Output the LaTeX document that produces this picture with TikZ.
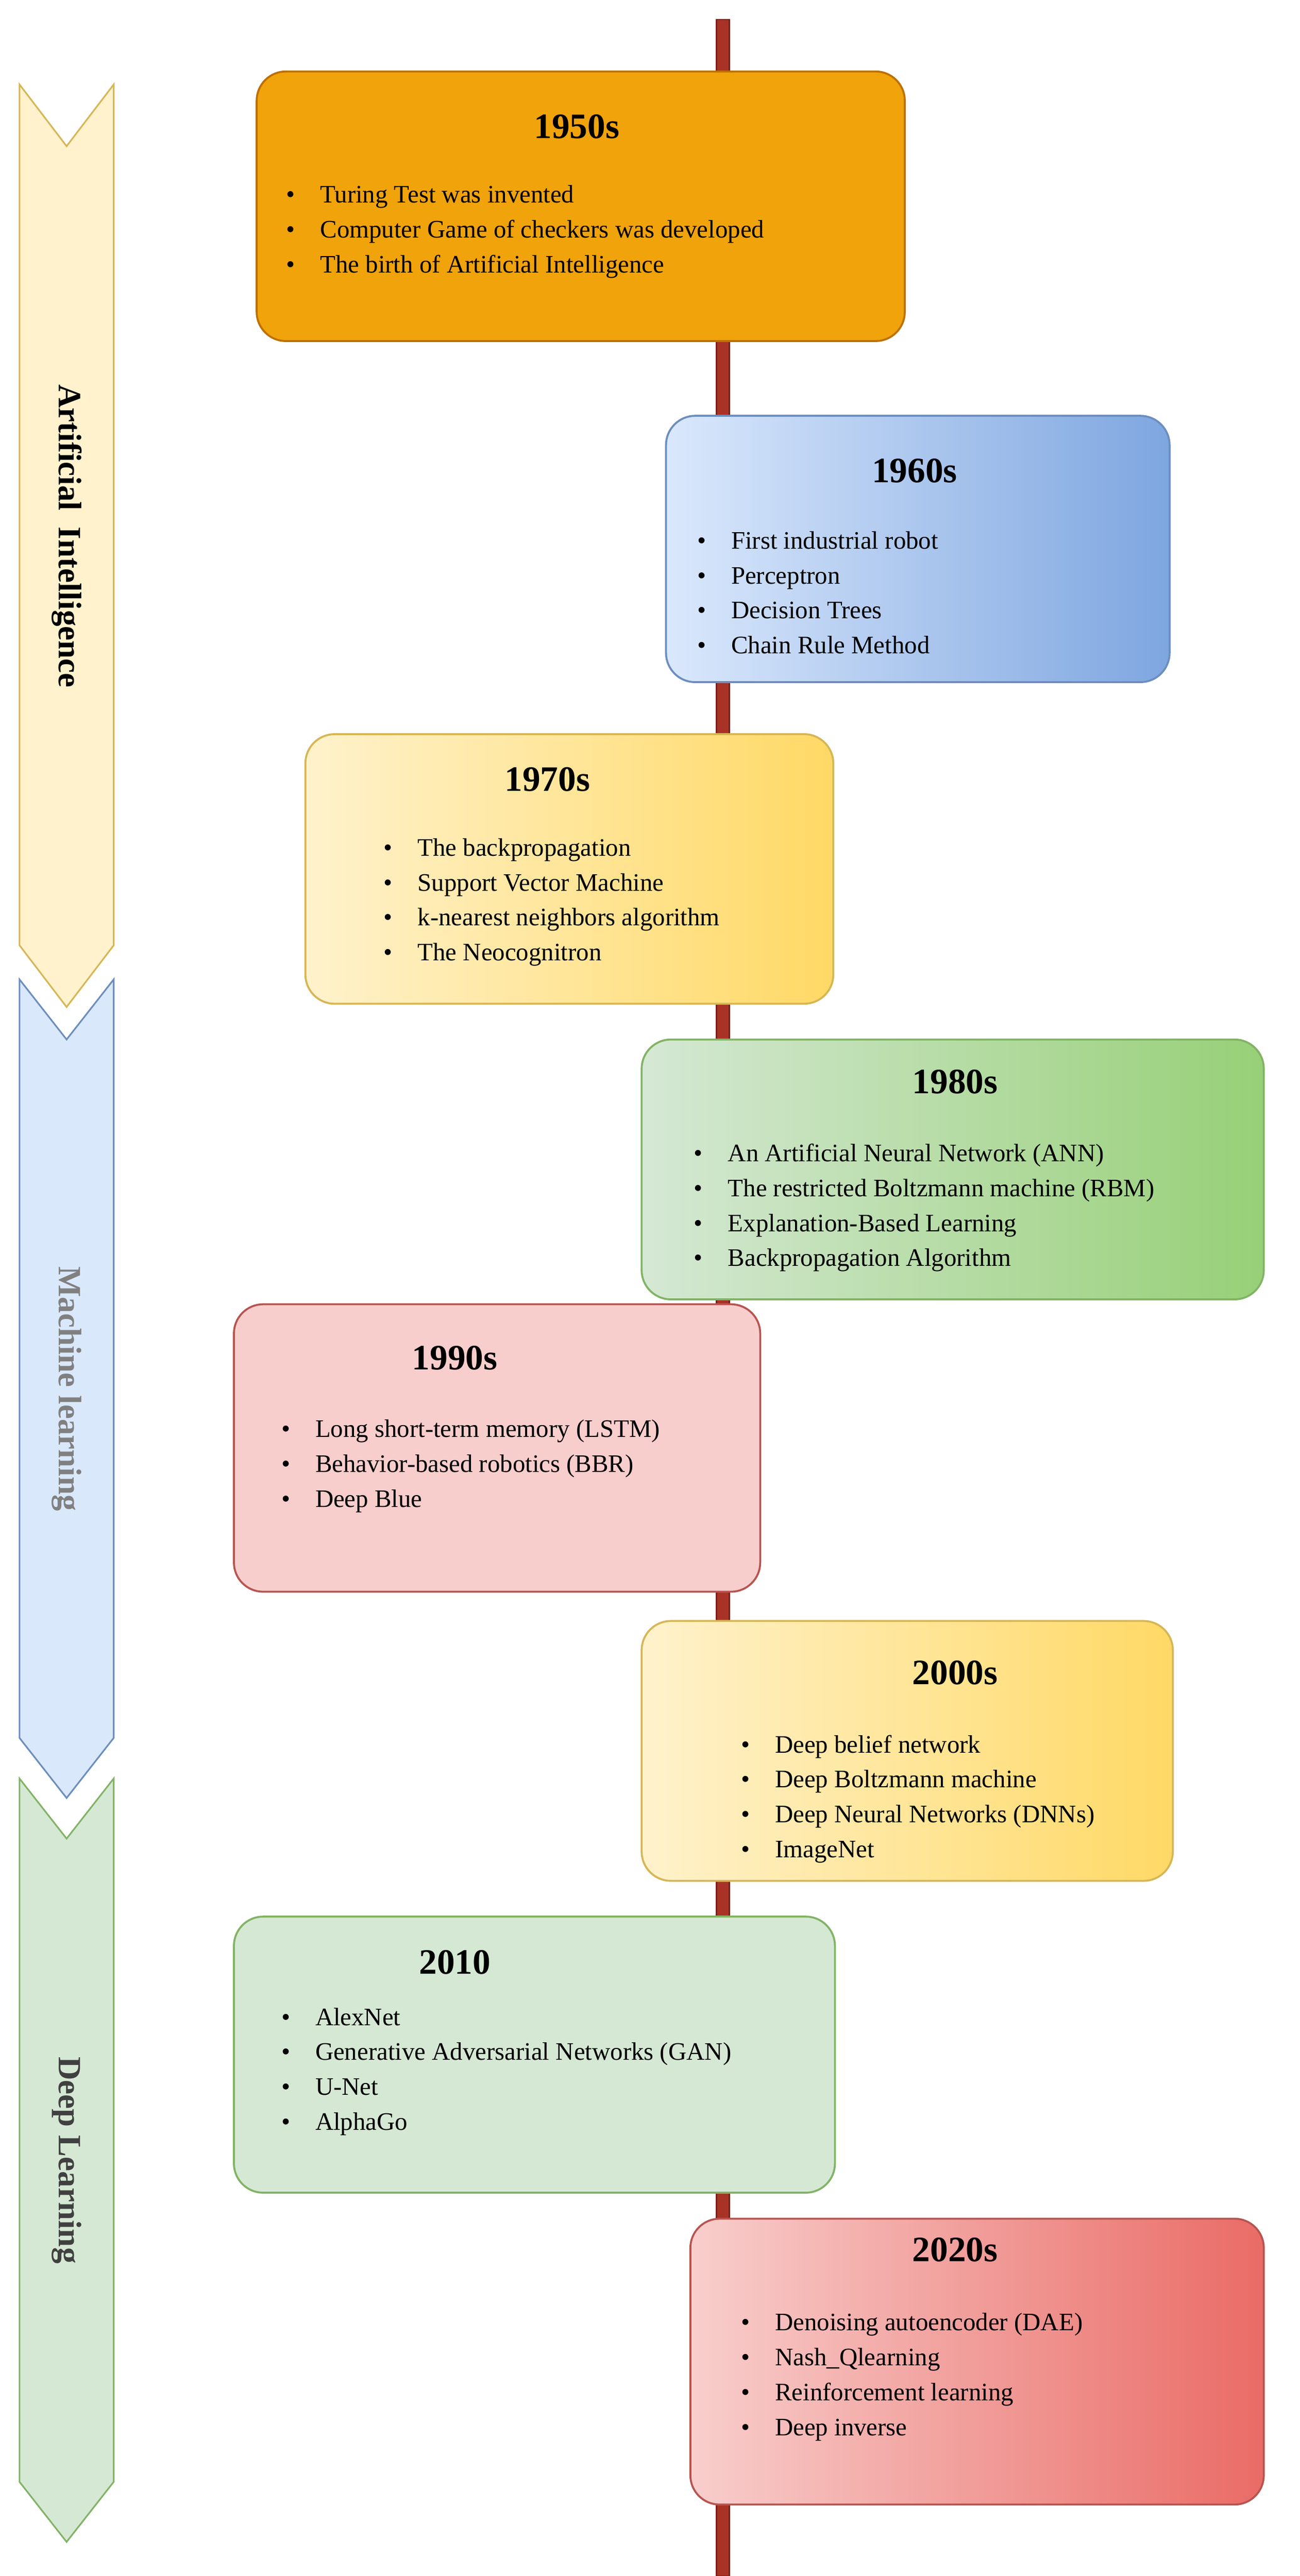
\documentclass[tikz,border=0pt]{standalone}
\usepackage{fontspec}
\setmainfont{Liberation Serif}
\begin{document}
\begin{tikzpicture}[x=1pt,y=-1pt,
 box/.style={draw, line width=1.2pt, rounded corners=18pt},
 ttl/.style={font=\fontsize{22}{24}\selectfont\bfseries},
 itm/.style={font=\fontsize{15.5}{21.5}\selectfont, align=left, anchor=north west, inner sep=0pt},
 chev/.style={draw, line width=1pt},
 ctext/.style={rotate=-90, font=\fontsize{20}{22}\selectfont\bfseries}]
\useasboundingbox (0,0) rectangle (800,1586);
\definecolor{lineR}{HTML}{A93226}
\definecolor{b1f}{HTML}{F0A30A}\definecolor{b1d}{HTML}{BD7000}
\definecolor{bl1}{HTML}{DAE8FC}\definecolor{bl2}{HTML}{7EA6E0}\definecolor{bld}{HTML}{6C8EBF}
\definecolor{y1}{HTML}{FFF2CC}\definecolor{y2}{HTML}{FFD966}\definecolor{yd}{HTML}{D6B656}
\definecolor{g1}{HTML}{D5E8D4}\definecolor{g2}{HTML}{97D077}\definecolor{gd}{HTML}{82B366}
\definecolor{r1}{HTML}{F8CECC}\definecolor{rd}{HTML}{B85450}\definecolor{r2}{HTML}{EA6B66}
\draw[draw=lineR!70!black, fill=lineR, line width=0.8pt] (441,12) rectangle (449,1586);
% chevrons
\draw[chev, fill=y1, draw=yd] (12,52) -- (41,90) -- (70,52) -- (70,582) -- (41,620) -- (12,582) -- cycle;
\draw[chev, fill=bl1, draw=bld] (12,603) -- (41,640) -- (70,603) -- (70,1070) -- (41,1107) -- (12,1070) -- cycle;
\draw[chev, fill=g1, draw=gd] (12,1095) -- (41,1132) -- (70,1095) -- (70,1528) -- (41,1565) -- (12,1528) -- cycle;
\node[ctext] (ai) at (41,330) {Artificial\ \ Intelligence};
\node[ctext, text=gray] (ml) at (41,855) {Machine learning};
\node[ctext, text=darkgray] (dl) at (41,1330) {Deep Learning};
% boxes
\node[box, fill=b1f, draw=b1d, minimum width=399pt, minimum height=166pt] (b50) at (357.5,127) {};
\node[ttl] (t50) at (355,78) {1950s};
\node[itm] (i50) at (176,114) {\textbullet\quad Turing Test was invented\\\textbullet\quad Computer Game of checkers was developed\\\textbullet\quad The birth of Artificial Intelligence};
\node[box, left color=bl1, right color=bl2, draw=bld, minimum width=310pt, minimum height=164pt] (b60) at (565,338) {};
\node[ttl] (t60) at (563,290) {1960s};
\node[itm] (i60) at (429,327) {\textbullet\quad First industrial robot\\\textbullet\quad Perceptron\\\textbullet\quad Decision Trees\\\textbullet\quad Chain Rule Method};
\node[box, left color=y1, right color=y2, draw=yd, minimum width=325pt, minimum height=166pt] (b70) at (350.5,535) {};
\node[ttl] (t70) at (337,480) {1970s};
\node[itm] (i70) at (236,516) {\textbullet\quad The backpropagation\\\textbullet\quad Support Vector Machine\\\textbullet\quad k-nearest neighbors algorithm\\\textbullet\quad The Neocognitron};
\node[box, left color=g1, right color=g2, draw=gd, minimum width=383pt, minimum height=160pt] (b80) at (586.5,720) {};
\node[ttl] (t80) at (588,666) {1980s};
\node[itm] (i80) at (427,704) {\textbullet\quad An Artificial Neural Network (ANN)\\\textbullet\quad The restricted Boltzmann machine (RBM)\\\textbullet\quad Explanation-Based Learning\\\textbullet\quad Backpropagation Algorithm};
\node[box, fill=r1, draw=rd, minimum width=324pt, minimum height=177pt] (b90) at (306,891.5) {};
\node[ttl] (t90) at (280,836) {1990s};
\node[itm] (i90) at (173,874) {\textbullet\quad Long short-term memory (LSTM)\\\textbullet\quad Behavior-based robotics (BBR)\\\textbullet\quad Deep Blue};
\node[box, left color=y1, right color=y2, draw=yd, minimum width=327pt, minimum height=160pt] (b00) at (558.5,1078) {};
\node[ttl] (t00) at (588,1030) {2000s};
\node[itm] (i00) at (456,1068) {\textbullet\quad Deep belief network\\\textbullet\quad Deep Boltzmann machine\\\textbullet\quad Deep Neural Networks (DNNs)\\\textbullet\quad ImageNet};
\node[box, fill=g1, draw=gd, minimum width=370pt, minimum height=170pt] (b10) at (329,1265) {};
\node[ttl] (t10) at (280,1208) {2010};
\node[itm] (i10) at (173,1236) {\textbullet\quad AlexNet\\\textbullet\quad Generative Adversarial Networks (GAN)\\\textbullet\quad U-Net\\\textbullet\quad AlphaGo};
\node[box, left color=r1, right color=r2, draw=rd, minimum width=353pt, minimum height=176pt] (b20) at (601.5,1454) {};
\node[ttl] (t20) at (588,1385) {2020s};
\node[itm] (i20) at (456,1424) {\textbullet\quad Denoising autoencoder (DAE)\\\textbullet\quad Nash\_Qlearning\\\textbullet\quad Reinforcement learning\\\textbullet\quad Deep inverse};
\end{tikzpicture}
\end{document}
